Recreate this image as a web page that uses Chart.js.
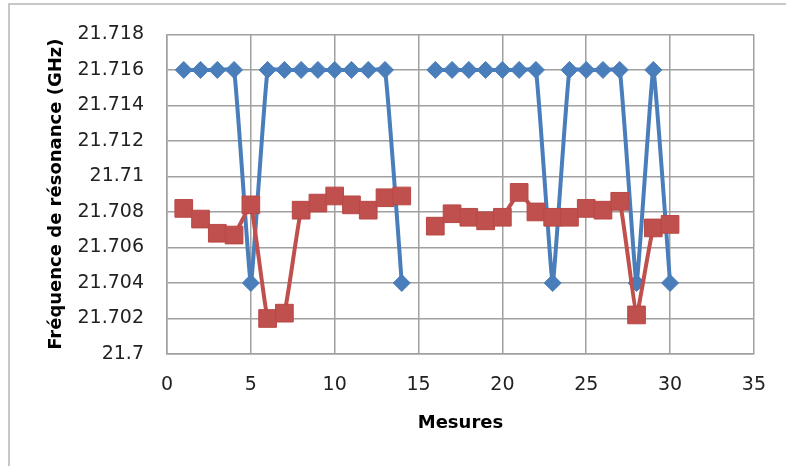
<!DOCTYPE html>
<html><head><meta charset="utf-8">
<script src="https://cdn.jsdelivr.net/npm/chart.js@4.4.0/dist/chart.umd.min.js"></script>
<style>html,body{margin:0;padding:0;background:#fff;}#wrap{width:786px;height:466px;position:relative;}</style>
</head><body><div id="wrap"><canvas id="c" width="786" height="466"></canvas></div>
<script>
const mesures = [1,2,3,4,5,6,7,8,9,10,11,12,13,14,15,16,17,18,19,20,21,22,23,24,25,26,27,28,29,30];
const serieBleue = [21.716,21.716,21.716,21.716,21.704,21.716,21.716,21.716,21.716,21.716,21.716,21.716,21.716,21.704,null,
                    21.716,21.716,21.716,21.716,21.716,21.716,21.716,21.704,21.716,21.716,21.716,21.716,21.704,21.716,21.704];
const serieRouge = [21.7082,21.7076,21.7068,21.7067,21.7084,21.7020,21.7023,21.7081,21.7085,21.7089,21.7084,21.7081,21.7088,21.7089,null,
                    21.7072,21.7079,21.7077,21.7075,21.7077,21.7091,21.7080,21.7077,21.7077,21.7082,21.7081,21.7086,21.7022,21.7071,21.7073];
const xTicks = [0,5,10,15,20,25,30,35];
const yTicks = [21.7,21.702,21.704,21.706,21.708,21.71,21.712,21.714,21.716,21.718];
const yTitle = 'Fréquence de résonance (GHz)';
const xTitle = 'Mesures';

const toPts = arr => mesures.map((m,i)=>({x:m,y:arr[i]}));

const framePlugin = {
  id:'frame',
  beforeDraw(chart){
    const ctx = chart.ctx;
    ctx.save();
    ctx.fillStyle='#fff'; ctx.fillRect(0,0,chart.width,chart.height);
    ctx.strokeStyle='#c8c8c8'; ctx.lineWidth=2;
    ctx.beginPath();
    ctx.moveTo(9,466); ctx.lineTo(9,4); ctx.lineTo(786,4);
    ctx.stroke();
    ctx.restore();
  }
};

const gridColor = '#a0a0a0';
new Chart(document.getElementById('c'), {
  type:'line',
  data:{datasets:[
    {label:'Rouge', data:toPts(serieRouge), borderColor:'#C0504D', backgroundColor:'#C0504D',
     borderWidth:4, pointStyle:'rect', pointRadius:12.5, pointBorderWidth:1, pointBorderColor:'#B84845',
     tension:0.1, spanGaps:false},
    {label:'Bleue', data:toPts(serieBleue), borderColor:'#4A7EBB', backgroundColor:'#4A7EBB',
     borderWidth:4, pointStyle:'rectRot', pointRadius:8.5, pointBorderWidth:1, pointBorderColor:'#4A7EBB',
     tension:0.1, spanGaps:false}
  ]},
  options:{
    responsive:false, animation:false,
    layout:{padding:{top:31,right:28,left:0,bottom:0}},
    plugins:{legend:{display:false}, tooltip:{enabled:false}},
    scales:{
      x:{type:'linear', min:0, max:35,
         afterBuildTicks(s){ s.ticks = xTicks.map(v=>({value:v})); },
         afterFit(s){ s.height = 112; },
         grid:{color:gridColor, lineWidth:1.5, drawTicks:false},
         border:{color:gridColor, width:1.5},
         ticks:{padding:20, color:'#222', font:{family:'DejaVu Sans', size:19}, maxRotation:0},
         title:{display:true, text:xTitle, color:'#000', font:{family:'DejaVu Sans', size:18, weight:'bold'}, padding:{top:0,bottom:32}}
      },
      y:{type:'linear', min:21.7, max:21.718,
         afterBuildTicks(s){ s.ticks = yTicks.map(v=>({value:v})); },
         afterFit(s){ s.width = 167; },
         grid:{color:gridColor, lineWidth:1.5, drawTicks:false},
         border:{color:gridColor, width:1.5},
         ticks:{padding:23, color:'#222', font:{family:'DejaVu Sans', size:19},
                callback:v=>String(+Number(v).toFixed(3))},
         title:{display:true, text:yTitle, color:'#000', font:{family:'DejaVu Sans', size:18, weight:'bold'}, padding:{top:46,bottom:0}}
      }
    }
  },
  plugins:[framePlugin]
});
</script></body></html>
